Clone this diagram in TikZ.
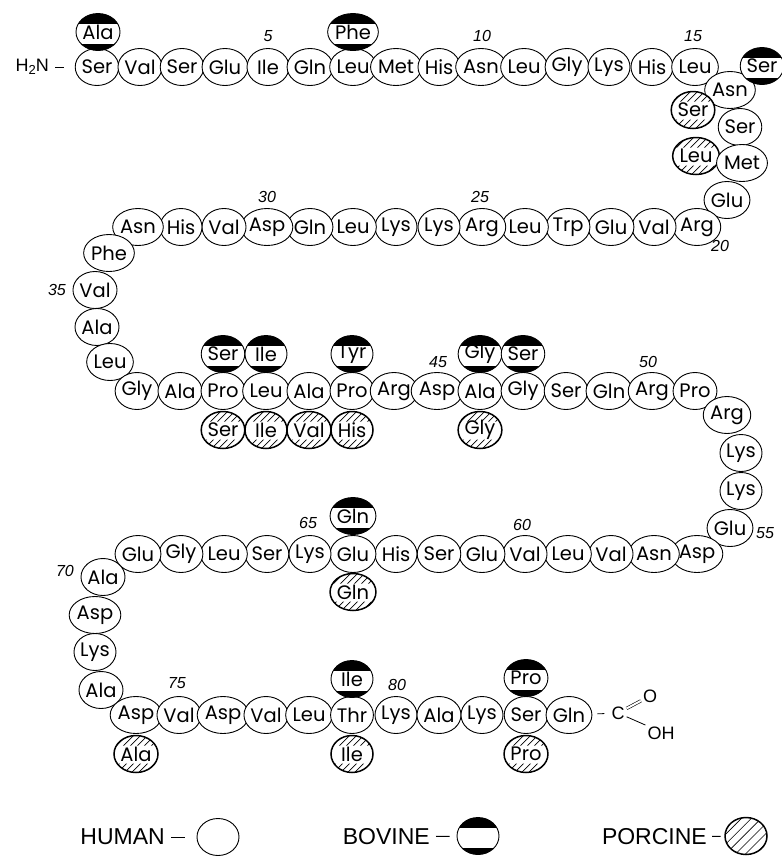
\documentclass[tikz,border=0pt]{standalone}
\usepackage{fontspec}
\setmainfont{Poppins}
\newfontfamily\thinfont{Liberation Sans}
\usetikzlibrary{shapes,positioning,patterns.meta}

\begin{document}
\begin{tikzpicture}[
    x=1pt, y=-1pt,
    res/.style={ellipse, draw, line width=0.9pt, fill=white, minimum width=42pt, minimum height=37pt, inner sep=0pt, font=\fontsize{19.5}{19.5}\selectfont},
    bov/.style={res, path picture={
        \fill[black] (path picture bounding box.north west) rectangle ([yshift=-10pt]path picture bounding box.north east);
        \fill[black] (path picture bounding box.south west) rectangle ([yshift=7pt]path picture bounding box.south east);}},
    hatch/.style={preaction={fill=white}, line width=1.5pt, pattern={Lines[angle=45,distance=7pt,line width=0.6pt]}},
    por/.style={res, line width=1.5pt, path picture={
        \begin{scope}
        \clip (path picture bounding box.north west) rectangle ([yshift=-10pt]path picture bounding box.north east)
              (path picture bounding box.south west) rectangle ([yshift=9pt]path picture bounding box.south east);
        \foreach \k in {-4,...,4}
            \draw[line width=0.7pt] ([xshift=\k*7pt-20pt, yshift=-20pt]path picture bounding box.center) -- ++(40pt,40pt);
        \end{scope}}},
    num/.style={font=\thinfont\itshape\fontsize{16}{16}\selectfont},
    chem/.style={font=\thinfont\fontsize{18}{18}\selectfont, inner sep=1pt},
    key/.style={font=\thinfont\fontsize{23}{23}\selectfont, inner sep=1pt}
]
\useasboundingbox (0,0) rectangle (782,857);

% N-terminus and residues 1-15
\node[chem, anchor=east] (nterm) at (50,67) {H\raisebox{-0.35ex}{\fontsize{13}{13}\selectfont 2}N};
\node[res] (r1) at (97,67) {Ser};
\node[res] (r2) at (140,67) {Val};
\node[res] (r3) at (182,67) {Ser};
\node[res] (r4) at (225,67) {Glu};
\node[res] (r5) at (268,67) {Ile};
\node[res] (r6) at (310,67) {Gln};
\node[res] (r7) at (353,67) {Leu};
\node[res] (r8) at (396,67) {Met};
\node[res] (r9) at (439,67) {His};
\node[res] (r10) at (481,67) {Asn};
\node[res] (r11) at (524,67) {Leu};
\node[res] (r12) at (567,67) {Gly};
\node[res] (r13) at (609,67) {Lys};
\node[res] (r14) at (652,67) {His};
\node[res] (r15) at (695,67) {Leu};
\draw[line width=1pt, shorten <=5pt, shorten >=11pt] (nterm) -- (r1);

\node[bov] (b1) at (98,32) {Ala};
\node[bov] (b7) at (353,32) {Phe};

\node[num] (n5) at (268,36) {5};
\node[num] (n10) at (482,36) {10};
\node[num] (n15) at (693,36) {15};

% Turn 16-19
\node[res] (r16) at (730,90) {Asn};
\node[bov] (b16) at (762,66) {Ser};
\node[por] (p16) at (693,110) {Ser};
\node[res] (r17) at (740,127) {Ser};
\node[por] (p18) at (696,156) {Leu};
\node[res] (r18) at (742,163) {Met};
\node[res] (r19) at (727,200) {Glu};

% Residues 20-33 (right to left)
\node[res] (r20) at (697,227) {Arg};
\node[res] (r21) at (654,227) {Val};
\node[res] (r22) at (611,227) {Glu};
\node[res] (r23) at (568,227) {Trp};
\node[res] (r24) at (525,227) {Leu};
\node[res] (r25) at (482,227) {Arg};
\node[res] (r26) at (439,227) {Lys};
\node[res] (r27) at (396,227) {Lys};
\node[res] (r28) at (353,227) {Leu};
\node[res] (r29) at (310,227) {Gln};
\node[res] (r30) at (267,227) {Asp};
\node[res] (r31) at (224,227) {Val};
\node[res] (r32) at (181,227) {His};
\node[res] (r33) at (138,227) {Asn};

\node[num] (n20) at (720,246) {20};
\node[num] (n25) at (480,197) {25};
\node[num] (n30) at (267,197) {30};

% Turn 34-37
\node[res] (r34) at (109,253) {Phe};
\node[res] (r35) at (95,290) {Val};
\node[res] (r36) at (97,327) {Ala};
\node[res] (r37) at (110,362) {Leu};
\node[num] (n35) at (57,290) {35};

% Residues 38-51
\node[res] (r38) at (137,391) {Gly};
\node[res] (r39) at (180,391) {Ala};
\node[res] (r40) at (223,391) {Pro};
\node[res] (r41) at (266,391) {Leu};
\node[res] (r42) at (309,391) {Ala};
\node[res] (r43) at (352,391) {Pro};
\node[res] (r44) at (394,391) {Arg};
\node[res] (r45) at (437,391) {Asp};
\node[res] (r46) at (480,391) {Ala};
\node[res] (r47) at (523,391) {Gly};
\node[res] (r48) at (566,391) {Ser};
\node[res] (r49) at (609,391) {Gln};
\node[res] (r50) at (652,391) {Arg};
\node[res] (r51) at (695,391) {Pro};

\node[bov] (b40) at (223,354) {Ser};
\node[bov] (b41) at (266,354) {Ile};
\node[bov] (b43) at (352,354) {Tyr};
\node[bov] (b46) at (480,354) {Gly};
\node[bov] (b47) at (523,354) {Ser};

\node[por] (p40) at (223,430) {Ser};
\node[por] (p41) at (266,430) {Ile};
\node[por] (p42) at (309,430) {Val};
\node[por] (p43) at (352,430) {His};
\node[por] (p46) at (480,430) {Gly};

\node[num] (n45) at (438,362) {45};
\node[num] (n50) at (648,362) {50};

% Turn 52-55
\node[res] (r52) at (727,415) {Arg};
\node[res] (r53) at (741,453) {Lys};
\node[res] (r54) at (741,491) {Lys};
\node[res] (r55) at (730,528) {Glu};
\node[num] (n55) at (765,533) {55};

% Residues 56-69 (right to left)
\node[res] (r56) at (697,554) {Asp};
\node[res] (r57) at (654,554) {Asn};
\node[res] (r58) at (611,554) {Val};
\node[res] (r59) at (568,554) {Leu};
\node[res] (r60) at (525,554) {Val};
\node[res] (r61) at (482,554) {Glu};
\node[res] (r62) at (439,554) {Ser};
\node[res] (r63) at (396,554) {His};
\node[res] (r64) at (353,554) {Glu};
\node[res] (r65) at (310,554) {Lys};
\node[res] (r66) at (267,554) {Ser};
\node[res] (r67) at (224,554) {Leu};
\node[res] (r68) at (181,554) {Gly};
\node[res] (r69) at (138,554) {Glu};

\node[bov] (b64) at (353,516) {Gln};
\node[por] (p64) at (353,592) {Gln};

\node[num] (n60) at (522,525) {60};
\node[num] (n65) at (308,523) {65};

% Turn 70-73
\node[res] (r70) at (103,577) {Ala};
\node[res] (r71) at (95,615) {Asp};
\node[res] (r72) at (95,652) {Lys};
\node[res] (r73) at (101,690) {Ala};
\node[num] (n70) at (65,571) {70};

% Residues 74-84 and C-terminus
\node[res] (r74) at (136,715) {Asp};
\node[res] (r75) at (179,715) {Val};
\node[res] (r76) at (223,715) {Asp};
\node[res] (r77) at (266,715) {Val};
\node[res] (r78) at (309,715) {Leu};
\node[res] (r79) at (352,715) {Thr};
\node[res] (r80) at (396,715) {Lys};
\node[res] (r81) at (439,715) {Ala};
\node[res] (r82) at (482,715) {Lys};
\node[res] (r83) at (526,715) {Ser};
\node[res] (r84) at (569,715) {Gln};

\node[bov] (b79) at (352,679) {Ile};
\node[bov] (b83) at (526,678) {Pro};
\node[por] (p74) at (136,754) {Ala};
\node[por] (p79) at (352,754) {Ile};
\node[por] (p83) at (526,754) {Pro};

\node[num] (n75) at (177,683) {75};
\node[num] (n80) at (397,685) {80};

\node[chem] (cterm) at (618,713) {C};
\node[chem] (oxo) at (650,696) {O};
\node[chem] (hydr) at (661,733) {OH};
\draw[line width=0.8pt, shorten <=5pt, shorten >=6pt] (r84) -- (cterm);
\draw[double, double distance=2pt, line width=0.6pt, shorten <=1pt, shorten >=1pt] (cterm) -- (oxo);
\draw[line width=0.8pt, shorten <=1pt, shorten >=1pt] (cterm) -- (hydr.north west);

% Legend
\node[key, anchor=east] (human) at (166,837) {HUMAN};
\node[res] (lh) at (218,837) {};
\draw[line width=1pt, shorten <=5pt, shorten >=12pt] (human) -- (lh);
\node[key, anchor=east] (bovine) at (431,837) {BOVINE};
\node[bov] (lb) at (478,836) {};
\draw[line width=1pt, shorten <=5pt, shorten >=7pt] (bovine) -- (lb);
\node[key, anchor=east] (porcine) at (708,837) {PORCINE};
\node[res, hatch] (lp) at (746,836) {};
\draw[line width=1pt, shorten <=4pt, shorten >=4pt] (porcine) -- (lp);

\end{tikzpicture}
\end{document}
